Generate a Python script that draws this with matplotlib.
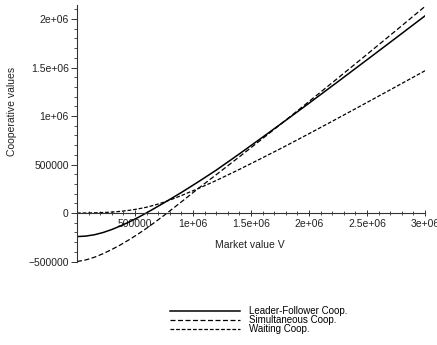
import matplotlib
matplotlib.use("Agg")
import matplotlib.pyplot as plt

plt.rcParams['font.family'] = ['Liberation Sans', 'DejaVu Sans']

market_value = [0, 75000, 150000, 225000, 300000, 375000, 450000, 525000, 600000, 675000,
                750000, 825000, 900000, 1050000, 1200000, 1400000, 1600000, 1800000,
                2000000, 2250000, 2500000, 2750000, 3000000]
leader_follower = [-243000, -238000, -224000, -201000, -170000, -133000, -92000, -47000, 2000, 53000,
                   105000, 158000, 212000, 325000, 442000, 610000, 782000, 956000,
                   1132000, 1355000, 1580000, 1806000, 2033000]
simultaneous = [-500000, -484000, -456000, -419000, -376000, -328000, -275000, -218000, -157000, -92000,
                -25000, 45000, 115000, 258000, 395000, 580000, 768000, 958000,
                1150000, 1392000, 1636000, 1882000, 2130000]
waiting = [0, 500, 2000, 5000, 10000, 17000, 28000, 42000, 60000, 84000,
           112000, 145000, 180000, 255000, 335000, 450000, 570000, 692000,
           818000, 978000, 1140000, 1303000, 1467000]

series_labels = ["Leader-Follower Coop.", "Simultaneous Coop.", "Waiting Coop."]
x_ticks = [500000, 1000000, 1500000, 2000000, 2500000, 3000000]
x_tick_labels = ["500000", "1e+06", "1.5e+06", "2e+06", "2.5e+06", "3e+06"]
y_ticks = [-500000, 0, 500000, 1000000, 1500000, 2000000]
y_tick_labels = ["\u2212500000", "0", "500000", "1e+06", "1.5e+06", "2e+06"]

W, H = 437, 345
fig = plt.figure(figsize=(W / 100, H / 100), dpi=100)
ax = fig.add_axes([77 / W, 1 - 262 / H, (425 - 77) / W, (262 - 5) / H])

l1, = ax.plot(market_value, leader_follower, color='black', lw=1.1, ls='-')
l2, = ax.plot(market_value, simultaneous, color='black', lw=0.9, ls=(0, (4, 2)))
l3, = ax.plot(market_value, waiting, color='black', lw=0.9, ls=(0, (3, 1.5)))

ax.set_xlim(0, 3000000)
ax.set_ylim(-505000, 2145000)

for s in ['top', 'right']:
    ax.spines[s].set_visible(False)
ax.spines['left'].set_position(('data', 0))
ax.spines['bottom'].set_position(('data', 0))
for s in ['left', 'bottom']:
    ax.spines[s].set_linewidth(0.8)
    ax.spines[s].set_color('#333333')

ax.set_xticks(x_ticks)
ax.set_xticklabels(x_tick_labels)
ax.set_yticks(y_ticks)
ax.set_yticklabels(y_tick_labels)
ax.set_xticks([v * 100000 for v in range(0, 31)], minor=True)
ax.set_yticks([v * 100000 for v in range(-5, 22)], minor=True)
ax.tick_params(axis='x', which='major', direction='inout', length=5, width=0.7,
               labelsize=7.5, colors='#333333', pad=2)
ax.tick_params(axis='x', which='minor', direction='inout', length=3, width=0.6,
               colors='#333333')
ax.tick_params(axis='y', which='major', direction='out', length=4, width=0.7,
               labelsize=7.5, colors='#333333', pad=2)
ax.tick_params(axis='y', which='minor', direction='out', length=2, width=0.6,
               colors='#333333')
for t in ax.get_xticklabels() + ax.get_yticklabels():
    t.set_color('#222222')

ax.set_xlabel("Market value V", fontsize=7.5, color='#222222')
ax.xaxis.set_label_coords((250 - 77) / 348, (262 - 240) / 257)
ax.set_ylabel("Cooperative values", fontsize=7.5, color='#222222')
ax.yaxis.set_label_coords((17 - 77) / 348, (262 - 111) / 257)

fig.legend([l1, l2, l3], series_labels, loc='upper left',
           bbox_to_anchor=(170 / W, 1 - 306 / H), frameon=False, fontsize=7,
           handlelength=7.2, handletextpad=0.9, labelspacing=-0.1,
           borderpad=0, borderaxespad=0)

fig.savefig("out.png", dpi=100)
